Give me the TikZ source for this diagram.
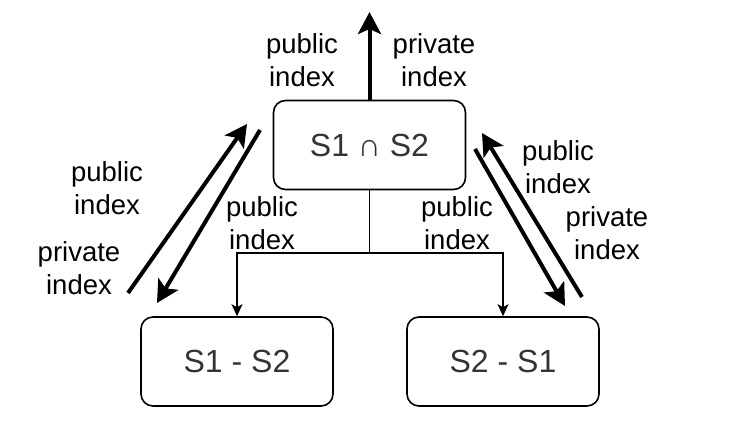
\documentclass[tikz,border=0pt]{standalone}
\usepackage{fontspec}
\setmainfont{Liberation Sans}
\usetikzlibrary{arrows.meta}
\definecolor{boxtext}{HTML}{333333}
\tikzset{
  box/.style={draw, line width=1.6pt, rounded corners=12pt, minimum width=192pt, minimum height=89pt, inner sep=0pt, font=\fontsize{32}{38}\selectfont, text=boxtext},
  lbl/.style={align=center, inner sep=0pt, font=\fontsize{27.5}{33}\selectfont},
  thick arrow/.style={line width=4pt, -{Stealth[length=22pt,width=23pt,inset=5pt]}},
  thin arrow/.style={line width=1.6pt, -{Stealth[length=12pt,width=11pt,inset=3pt]}},
  thin line/.style={line width=1.6pt}
}
\begin{document}
\begin{tikzpicture}[x=1pt,y=-1pt]
\useasboundingbox (0,0) rectangle (736,438);
\node[box] (top) at (369.5,145) {S1 ∩ S2};
\node[box] (bl) at (237,361.5) {S1 - S2};
\node[box] (br) at (503,361.5) {S2 - S1};
% up arrow
\coordinate (uptip) at (369.5,12);
\draw[thick arrow] (top.north) -- (uptip);
\node[lbl] (lup1) at (302,60) {public\\index};
\node[lbl] (lup2) at (434,60) {private\\index};
% branch
\coordinate (j) at (369.5,253);
\draw[thin line] (top.south) -- (j);
\draw[thin arrow] (j) -| (bl.north);
\draw[thin arrow] (j) -| (br.north);
\node[lbl] (lm1) at (262,223) {public\\index};
\node[lbl] (lm2) at (457,223) {public\\index};
% left diagonals
\coordinate (l1s) at (128,293);
\coordinate (l1e) at (247,124);
\coordinate (l2s) at (260,130);
\coordinate (l2e) at (157,303);
\draw[thick arrow] (l1s) -- (l1e);
\draw[thick arrow] (l2s) -- (l2e);
\node[lbl] (ll1) at (107,188) {public\\index};
\node[lbl] (ll2) at (79,268) {private\\index};
% right diagonals
\coordinate (r1s) at (582,297);
\coordinate (r1e) at (482,133);
\coordinate (r2s) at (475,149);
\coordinate (r2e) at (565,306);
\draw[thick arrow] (r1s) -- (r1e);
\draw[thick arrow] (r2s) -- (r2e);
\node[lbl] (rl1) at (558,167) {public\\index};
\node[lbl] (rl2) at (607,233) {private\\index};
\end{tikzpicture}
\end{document}
